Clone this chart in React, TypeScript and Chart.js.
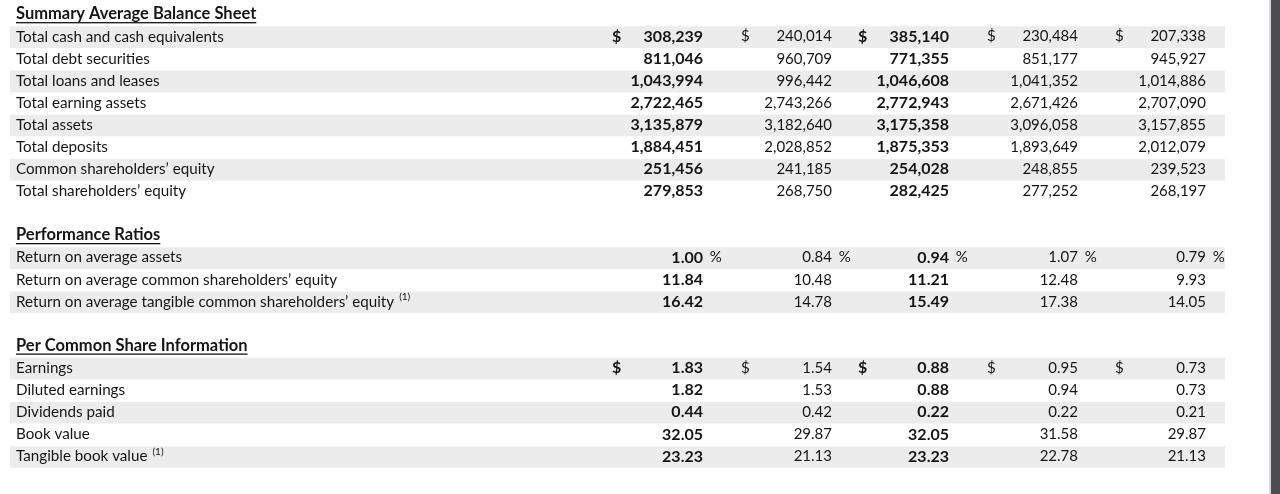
import { useEffect, useRef } from 'react';
import { Chart, registerables } from 'chart.js';

Chart.register(...registerables);

// ---------- data ----------
const sectionTitles = ['Summary Average Balance Sheet', 'Performance Ratios', 'Per Common Share Information'];

const balanceLabels = [
  'Total cash and cash equivalents',
  'Total debt securities',
  'Total loans and leases',
  'Total earning assets',
  'Total assets',
  'Total deposits',
  'Common shareholders’ equity',
  'Total shareholders’ equity',
];
const balanceP1 = [308239, 811046, 1043994, 2722465, 3135879, 1884451, 251456, 279853];
const balanceP2 = [240014, 960709, 996442, 2743266, 3182640, 2028852, 241185, 268750];
const balanceP3 = [385140, 771355, 1046608, 2772943, 3175358, 1875353, 254028, 282425];
const balanceP4 = [230484, 851177, 1041352, 2671426, 3096058, 1893649, 248855, 277252];
const balanceP5 = [207338, 945927, 1014886, 2707090, 3157855, 2012079, 239523, 268197];

const ratioLabels = [
  'Return on average assets',
  'Return on average common shareholders’ equity',
  'Return on average tangible common shareholders’ equity',
];
const ratioP1 = [1.0, 11.84, 16.42];
const ratioP2 = [0.84, 10.48, 14.78];
const ratioP3 = [0.94, 11.21, 15.49];
const ratioP4 = [1.07, 12.48, 17.38];
const ratioP5 = [0.79, 9.93, 14.05];

const shareLabels = ['Earnings', 'Diluted earnings', 'Dividends paid', 'Book value', 'Tangible book value'];
const shareP1 = [1.83, 1.82, 0.44, 32.05, 23.23];
const shareP2 = [1.54, 1.53, 0.42, 29.87, 21.13];
const shareP3 = [0.88, 0.88, 0.22, 32.05, 23.23];
const shareP4 = [0.95, 0.94, 0.22, 31.58, 22.78];
const shareP5 = [0.73, 0.73, 0.21, 29.87, 21.13];

const footnoteLabels = ['Return on average tangible common shareholders’ equity', 'Tangible book value'];
const boldColumns = [0, 2];

// ---------- row model ----------
type Row = {
  kind: 'header' | 'blank' | 'data';
  label: string;
  values: number[];
  fmt: 'int' | 'dec';
  dollar: boolean;
  pct: boolean;
  shaded: boolean;
};

function sectionRows(
  title: string,
  labels: string[],
  cols: number[][],
  fmt: 'int' | 'dec',
  dollarFirst: boolean,
  pctFirst: boolean
): Row[] {
  const out: Row[] = [{ kind: 'header', label: title, values: [], fmt, dollar: false, pct: false, shaded: false }];
  labels.forEach((l, i) => {
    out.push({
      kind: 'data',
      label: l,
      values: cols.map((c) => c[i]),
      fmt,
      dollar: dollarFirst && i === 0,
      pct: pctFirst && i === 0,
      shaded: i % 2 === 0,
    });
  });
  return out;
}

const blankRow: Row = { kind: 'blank', label: '', values: [], fmt: 'int', dollar: false, pct: false, shaded: false };

const rows: Row[] = [
  ...sectionRows(sectionTitles[0], balanceLabels, [balanceP1, balanceP2, balanceP3, balanceP4, balanceP5], 'int', true, false),
  blankRow,
  ...sectionRows(sectionTitles[1], ratioLabels, [ratioP1, ratioP2, ratioP3, ratioP4, ratioP5], 'dec', false, true),
  blankRow,
  ...sectionRows(sectionTitles[2], shareLabels, [shareP1, shareP2, shareP3, shareP4, shareP5], 'dec', true, false),
];

// ---------- layout / style ----------
const FONT = 'Lato, "Open Sans", sans-serif';
const TEXT = '#151515';
const STRIPE = '#ececec';
const LABEL_X = 16;
const COL_RIGHT = [703, 832, 949, 1078, 1206];
const DOLLAR_OFFSET = 91;
const STRIPE_FROM = 10;
const STRIPE_TO = 1225;

function fmtValue(v: number, fmt: 'int' | 'dec') {
  if (fmt === 'int') return v.toLocaleString('en-US');
  return v.toFixed(2);
}

const tablePlugin = {
  id: 'tableText',
  beforeDraw(chart: any) {
    const ctx = chart.ctx;
    ctx.save();
    ctx.fillStyle = '#d9d9da';
    ctx.fillRect(1269, 0, 2, chart.height);
    ctx.fillStyle = '#4d4d50';
    ctx.fillRect(1271, 0, 9, chart.height);
    ctx.restore();
  },
  afterDatasetsDraw(chart: any) {
    const ctx = chart.ctx;
    const xs = chart.scales.x;
    const ys = chart.scales.y;
    ctx.save();
    ctx.fillStyle = TEXT;
    ctx.strokeStyle = TEXT;
    ctx.textBaseline = 'middle';
    rows.forEach((r, i) => {
      const y0 = ys.getPixelForValue(i);
      if (r.kind === 'blank') return;
      const lx = xs.getPixelForValue(LABEL_X);
      if (r.kind === 'header') {
        const hy = y0 - 1;
        ctx.font = `bold 16.5px ${FONT}`;
        ctx.textAlign = 'left';
        ctx.fillText(r.label, lx, hy);
        const w = ctx.measureText(r.label).width;
        ctx.fillRect(lx, hy + 8, w, 1.3);
        return;
      }
      const y = y0 - 0.5;
      ctx.font = `15.2px ${FONT}`;
      ctx.textAlign = 'left';
      ctx.fillText(r.label, lx, y);
      if (footnoteLabels.includes(r.label)) {
        const w = ctx.measureText(r.label).width;
        ctx.font = `10px ${FONT}`;
        ctx.fillText('(1)', lx + w + 5, y - 5);
      }
      r.values.forEach((v, c) => {
        const bold = boldColumns.includes(c);
        const right = xs.getPixelForValue(COL_RIGHT[c]);
        ctx.font = bold ? `bold 16px ${FONT}` : `15px ${FONT}`;
        ctx.textAlign = 'right';
        ctx.fillText(fmtValue(v, r.fmt), right, y);
        if (r.dollar) {
          ctx.textAlign = 'left';
          ctx.fillText('$', xs.getPixelForValue(COL_RIGHT[c] - DOLLAR_OFFSET), y);
        }
        if (r.pct) {
          ctx.font = `15px ${FONT}`;
          ctx.textAlign = 'left';
          ctx.fillText(' %', right + 3, y);
        }
      });
    });
    ctx.restore();
  },
};

export default function App() {
  const ref = useRef<HTMLCanvasElement | null>(null);
  useEffect(() => {
    document.body.style.margin = '0';
    const canvas = ref.current;
    if (!canvas) return;
    const chart = new Chart(canvas, {
      type: 'bar',
      data: {
        labels: rows.map((r) => r.label),
        datasets: [
          {
            data: rows.map((r) => (r.shaded ? [STRIPE_FROM, STRIPE_TO] : null)) as any,
            backgroundColor: STRIPE,
            borderWidth: 0,
            barPercentage: 1,
            categoryPercentage: 0.98,
          },
        ],
      },
      options: {
        indexAxis: 'y',
        animation: false,
        responsive: false,
        maintainAspectRatio: false,
        layout: { padding: { top: 4, bottom: 26, left: 0, right: 0 } },
        scales: {
          x: { type: 'linear', min: 0, max: 1280, display: false },
          y: { type: 'category', display: false },
        },
        plugins: {
          legend: { display: false },
          tooltip: { enabled: false },
        },
        events: [],
      },
      plugins: [tablePlugin],
    });
    return () => chart.destroy();
  }, []);
  return <canvas ref={ref} width={1280} height={494} style={{ display: 'block' }} />;
}
